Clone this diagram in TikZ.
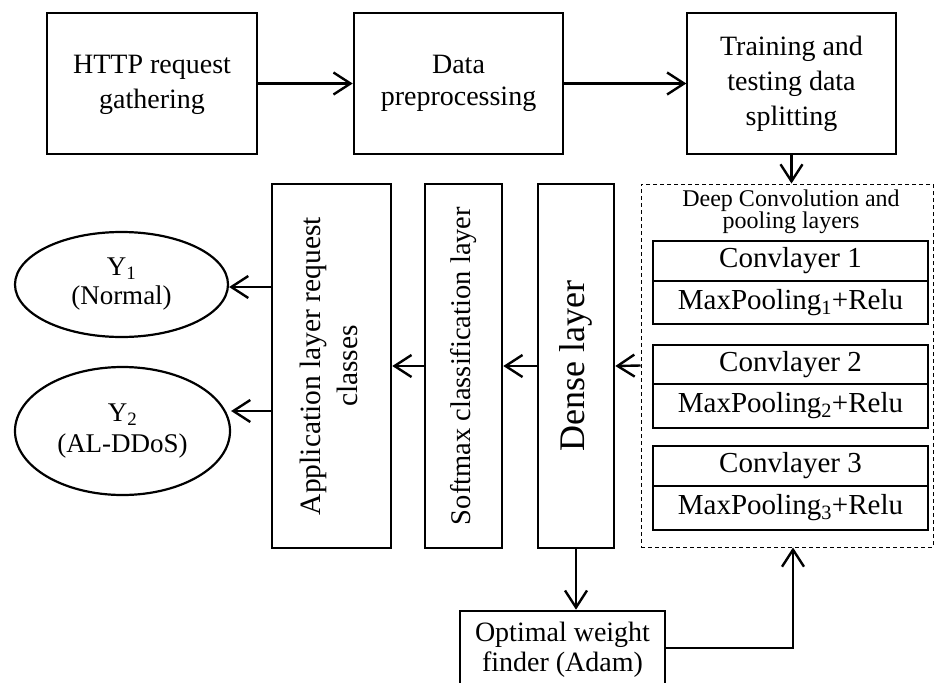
\documentclass[tikz,border=0pt]{standalone}
\usepackage{fontspec}
\setmainfont{Liberation Serif}
\usetikzlibrary{arrows.meta,shapes.geometric,calc}

\begin{document}
\begin{tikzpicture}[x=1pt,y=-1pt,
  box/.style={draw,line width=2.6pt,inner sep=0pt,align=center,
    font=\fontsize{28}{35}\selectfont},
  thinbox/.style={draw,line width=1.4pt,inner sep=0pt,align=center,
    font=\fontsize{28}{35}\selectfont},
  layerbox/.style={draw,line width=2.6pt,inner sep=0pt,minimum width=#1,
    minimum height=364pt},
  oval/.style={draw,ellipse,line width=2.2pt,inner sep=0pt,align=center,
    font=\fontsize{27}{29}\selectfont},
  cell/.style={draw,line width=1.4pt,inner sep=0pt,minimum width=275pt,
    font=\fontsize{29}{30}\selectfont},
  arr/.style={line width=2.4pt,-{Straight Barb[length=17pt,width=22pt,line width=2.4pt]}}
]
\useasboundingbox (0,0) rectangle (935,683);

% top row
\node[box,minimum width=210pt,minimum height=141pt] (http) at (152,83.5)
  {\raisebox{-4pt}{\begin{tabular}{@{}c@{}}HTTP request\\gathering\end{tabular}}};
\node[box,minimum width=209pt,minimum height=141pt,
  font=\fontsize{28}{32}\selectfont] (prep) at (458.5,83.5)
  {\raisebox{8pt}{\begin{tabular}{@{}c@{}}Data\\preprocessing\end{tabular}}};
\node[thinbox,minimum width=209pt,minimum height=141pt] (split) at (791.5,83.5)
  {\raisebox{-4pt}{\begin{tabular}{@{}c@{}}Training and\\testing data\\splitting\end{tabular}}};

% convolution block
\node[draw,dashed,dash pattern=on 4pt off 3pt,line width=1pt,inner sep=0pt,
  minimum width=292pt,minimum height=363pt] (deep) at (787,365.5) {};
\node[align=center,inner sep=0pt,font=\fontsize{24}{22}\selectfont] (deeptitle)
  at (791,212) {Deep Convolution and\\pooling layers};

\node[cell,minimum height=40pt] (c1) at (790.5,261) {Convlayer 1};
\node[cell,minimum height=43pt] (p1) at (790.5,302.5) {MaxPooling\textsubscript{1}+Relu};
\node[cell,minimum height=39pt] (c2) at (790.5,364.5) {Convlayer 2};
\node[cell,minimum height=44pt] (p2) at (790.5,406) {MaxPooling\textsubscript{2}+Relu};
\node[cell,minimum height=40pt] (c3) at (790.5,466) {Convlayer 3};
\node[cell,minimum height=44pt] (p3) at (790.5,508) {MaxPooling\textsubscript{3}+Relu};

% vertical layers
\node[layerbox=76pt] (dense) at (576,366)
  {\rotatebox{90}{\fontsize{36}{40}\selectfont Dense layer}};
\node[layerbox=77pt] (soft) at (463.5,366)
  {\rotatebox{90}{\fontsize{28.5}{30}\selectfont Softmax classification layer}};
\node[layerbox=119pt] (app) at (331.5,366)
  {\rotatebox{90}{\fontsize{29.5}{37}\selectfont
    \begin{tabular}{@{}c@{}}Application layer request\\classes\end{tabular}}};

% outputs
\node[oval,minimum width=213pt,minimum height=105pt] (y1) at (121.5,284.5)
  {Y\textsubscript{1}\\(Normal)};
\node[oval,minimum width=215pt,minimum height=128pt,
  font=\fontsize{27}{31}\selectfont] (y2) at (122.5,431)
  {Y\textsubscript{2}\\(AL-DDoS)};

% optimiser
\node[box,minimum width=205pt,minimum height=79pt,
  font=\fontsize{28}{30}\selectfont] (opt) at (562.5,650.5)
  {\raisebox{-3pt}{\begin{tabular}{@{}c@{}}Optimal weight\\finder (Adam)\end{tabular}}};

% connectors
\draw[arr] (http.east) -- (prep.west);
\draw[arr] (prep.east) -- (split.west);
\draw[arr] (split.south) -- (split.south |- deep.north);
\draw[arr] (deep.west) -- (dense.east);
\draw[arr] (dense.west) -- (soft.east);
\draw[arr] (soft.west) -- (app.east);
\coordinate (a1) at (app.west |- 0,287);
\coordinate (a2) at (app.west |- 0,411);
\draw[arr] (a1) -- (a1 -| y1.east);
\draw[arr] (a2) -- (a2 -| y2.east);
\draw[arr] (dense.south) -- (dense.south |- opt.north);
\draw[arr] (opt.east |- 0,648) -| ([xshift=6pt]deep.south);
\end{tikzpicture}
\end{document}
